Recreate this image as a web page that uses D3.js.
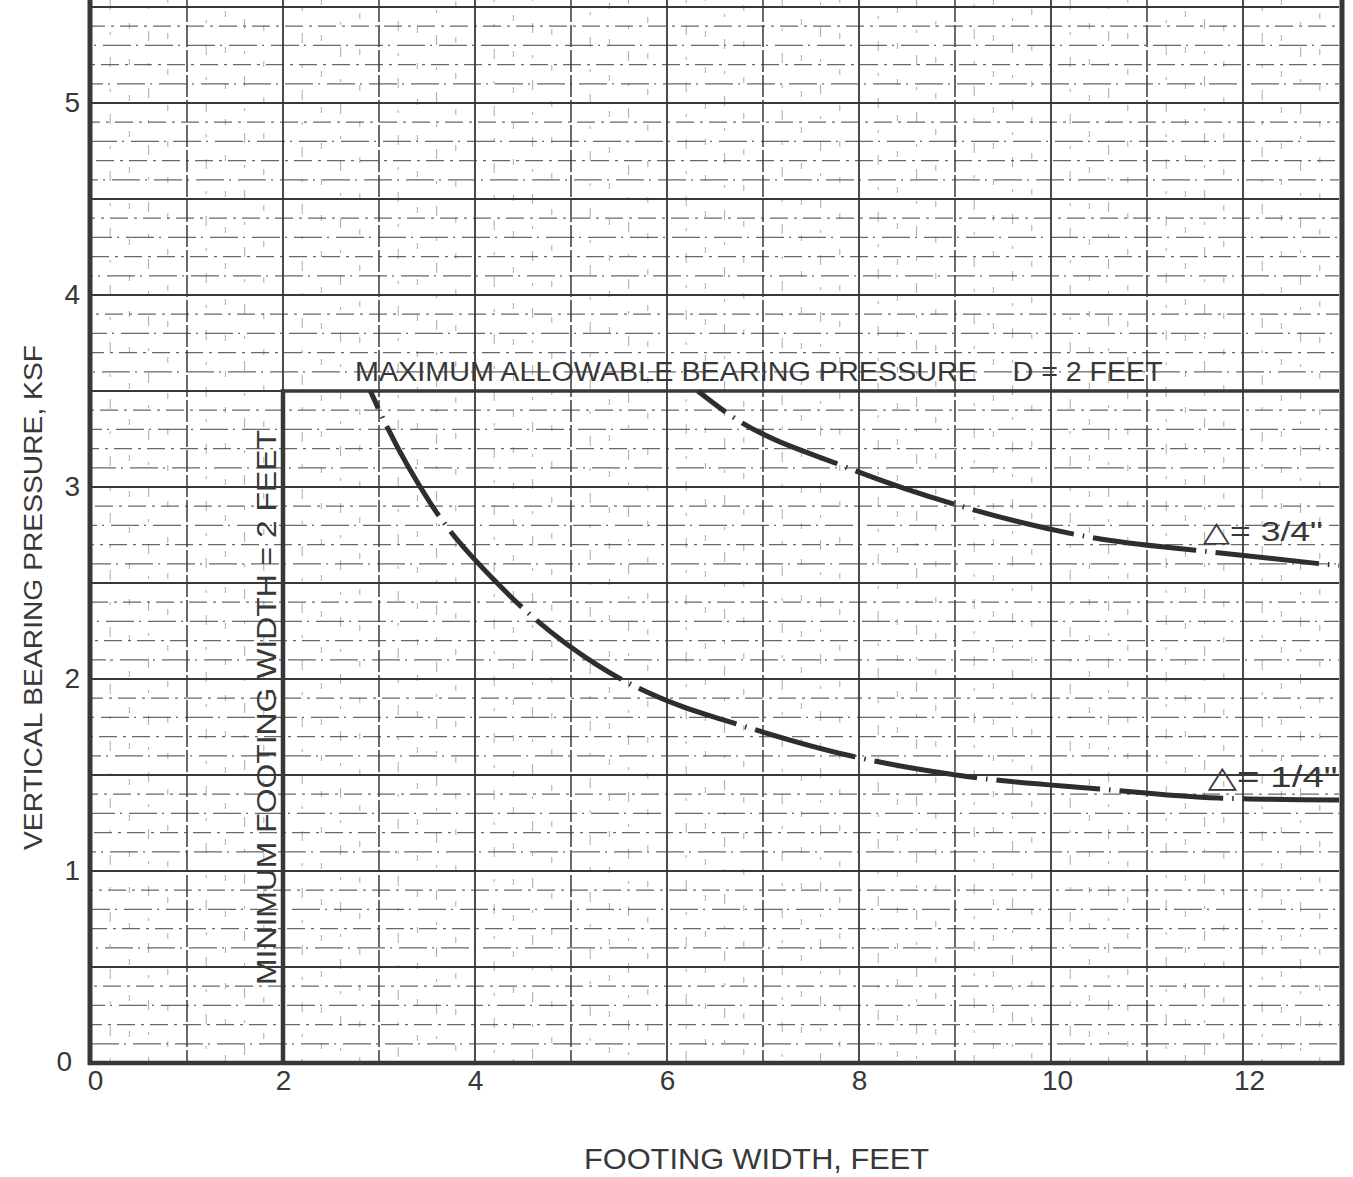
<!DOCTYPE html>
<html>
<head>
<meta charset="utf-8">
<script src="https://cdn.jsdelivr.net/npm/d3@7"></script>
<style>
  body { margin: 0; background: #fff; }
  svg { display: block; }
  text { font-family: "Liberation Sans", "DejaVu Sans", sans-serif; fill: #383838; }
</style>
</head>
<body>
<svg id="chart"></svg>
<script>
// values
const xTicks = [0, 2, 4, 6, 8, 10, 12]
const yTicks = [0, 1, 2, 3, 4, 5]
const maxBearing = 3.5      // ksf, D = 2 feet
const minWidth = 2          // feet
// settlement curve, delta = 1/4"
const quarterX = [2.91, 3.01, 3.53, 4.29, 5.25, 6.14, 6.57, 7.91, 9.16, 10.44, 11.74, 13]
const quarterY = [3.5, 3.39, 2.92, 2.47, 2.08, 1.86, 1.79, 1.60, 1.49, 1.43, 1.38, 1.37]
// settlement curve, delta = 3/4"
const threeQX = [6.32, 6.67, 7.83, 9.13, 10.39, 11.70, 13]
const threeQY = [3.5, 3.37, 3.11, 2.89, 2.74, 2.66, 2.59]

const width = 1353, height = 1177
const ink = '#383838'

const svg = d3.select('#chart')
  .attr('width', width)
  .attr('height', height)

svg.append('rect').attr('width', width).attr('height', height).attr('fill', '#fff')

const x = d3.scaleLinear().domain([0, 13]).range([91, 1339])
const y = d3.scaleLinear().domain([0, 5]).range([1063, 103])

svg.append('clipPath').attr('id', 'plot')
  .append('rect')
  .attr('x', x(0)).attr('y', 0)
  .attr('width', x(13) - x(0) + 2).attr('height', y(0))

const grid = svg.append('g').attr('clip-path', 'url(#plot)')

// minor vertical lines every 0.2 ft (faint, broken on the scan)
const vMinor = d3.range(1, 65).map(i => i / 5).filter(v => Math.abs(v - Math.round(v)) > 1e-6)
grid.selectAll('.vminor').data(vMinor).join('line')
  .attr('x1', d => x(d)).attr('x2', d => x(d))
  .attr('y1', 0).attr('y2', y(0))
  .attr('stroke', '#555').attr('stroke-width', 1)
  .attr('stroke-dasharray', (d, i) => i % 2 ? '6,30' : '10,22,3,22')
  .attr('stroke-dashoffset', (d, i) => (i * 13) % 40)
  .attr('opacity', 0.5)

// minor horizontal lines every 0.1 ksf
const hMinor = d3.range(1, 56).map(i => i / 10).filter(v => Math.abs(v * 2 - Math.round(v * 2)) > 1e-6)
grid.selectAll('.hminor').data(hMinor).join('line')
  .attr('x1', x(0)).attr('x2', x(13))
  .attr('y1', d => y(d)).attr('y2', d => y(d))
  .attr('stroke', '#444').attr('stroke-width', 1.2)
  .attr('stroke-dasharray', (d, i) => i % 2 ? '18,6,3,6' : '28,5,2,7')
  .attr('stroke-dashoffset', (d, i) => (i * 7) % 33)
  .attr('opacity', 0.8)

// half-ksf and whole-ksf lines
const hMajor = d3.range(1, 12).map(i => i / 2)
grid.selectAll('.hmajor').data(hMajor).join('line')
  .attr('x1', x(0)).attr('x2', x(13))
  .attr('y1', d => y(d)).attr('y2', d => y(d))
  .attr('stroke', ink)
  .attr('stroke-width', d => d % 1 === 0 ? 2.2 : 1.8)

// whole-foot vertical lines
const vMajor = d3.range(1, 13)
grid.selectAll('.vmajor').data(vMajor).join('line')
  .attr('x1', d => x(d)).attr('x2', d => x(d))
  .attr('y1', 0).attr('y2', y(0))
  .attr('stroke', ink)
  .attr('stroke-width', d => d % 2 === 0 ? 1.8 : 1.5)
  .attr('stroke-dasharray', d => d % 2 === 0 ? null : '22,3')

// limits
svg.append('line')
  .attr('x1', x(minWidth)).attr('x2', x(minWidth))
  .attr('y1', y(0)).attr('y2', y(maxBearing) - 1.5)
  .attr('stroke', ink).attr('stroke-width', 4.5)
svg.append('line')
  .attr('x1', x(minWidth) - 2).attr('x2', x(13))
  .attr('y1', y(maxBearing)).attr('y2', y(maxBearing))
  .attr('stroke', ink).attr('stroke-width', 3.5)

// settlement curves
const line = d3.line()
  .x(d => x(d[0])).y(d => y(d[1]))
  .curve(d3.curveMonotoneX)

const curves = [
  { pts: d3.zip(quarterX, quarterY), offset: 85 },
  { pts: d3.zip(threeQX, threeQY), offset: 69 }
]
svg.append('g').attr('clip-path', 'url(#plot)')
  .selectAll('path').data(curves).join('path')
  .attr('d', d => line(d.pts))
  .attr('fill', 'none')
  .attr('stroke', '#2e2e2e')
  .attr('stroke-width', 5)
  .attr('stroke-linecap', 'butt')
  .attr('stroke-dasharray', '104,9,1.5,9')
  .attr('stroke-dashoffset', d => d.offset)

// frame
svg.append('line')
  .attr('x1', x(0) - 1).attr('x2', x(0) - 1)
  .attr('y1', 0).attr('y2', y(0) + 2)
  .attr('stroke', ink).attr('stroke-width', 5)
svg.append('line')
  .attr('x1', x(13) + 3).attr('x2', x(13) + 3)
  .attr('y1', 0).attr('y2', y(0) + 2)
  .attr('stroke', ink).attr('stroke-width', 5)
svg.append('line')
  .attr('x1', x(0) - 3).attr('x2', x(13) + 5)
  .attr('y1', y(0)).attr('y2', y(0))
  .attr('stroke', ink).attr('stroke-width', 4.5)

// axes (labels only)
const xAxis = d3.axisBottom(x).tickValues(xTicks).tickSize(0).tickPadding(7)
  .tickFormat(d3.format('d'))
const yAxis = d3.axisLeft(y).tickValues(yTicks).tickSize(0).tickPadding(11)
  .tickFormat(d3.format('d'))

const gx = svg.append('g').attr('transform', `translate(0,${y(0)})`).call(xAxis)
const gy = svg.append('g').attr('transform', `translate(${x(0)},0)`).call(yAxis)
;[gx, gy].forEach(g => {
  g.select('.domain').remove()
  g.selectAll('text')
    .attr('font-size', 28)
    .attr('font-family', '"Liberation Sans", sans-serif')
    .attr('fill', ink)
})
gx.selectAll('.tick text').attr('dx', d => d >= 10 ? 6 : (d === 0 ? 4 : 0))
gy.selectAll('.tick text').attr('dy', d => d === 0 ? '0.25em' : '0.32em')
  .attr('dx', d => d === 0 ? -8 : 0)

// titles
svg.append('text')
  .attr('x', 584).attr('y', 1169)
  .attr('font-size', 29)
  .attr('textLength', 345).attr('lengthAdjust', 'spacingAndGlyphs')
  .text('FOOTING WIDTH, FEET')

svg.append('text')
  .attr('transform', 'translate(42,850) rotate(-90)')
  .attr('font-size', 26)
  .attr('textLength', 505).attr('lengthAdjust', 'spacingAndGlyphs')
  .text('VERTICAL BEARING PRESSURE, KSF')

// annotations
svg.append('text')
  .attr('x', x(2.75)).attr('y', y(maxBearing) - 10)
  .attr('font-size', 27)
  .attr('textLength', 622).attr('lengthAdjust', 'spacingAndGlyphs')
  .text('MAXIMUM ALLOWABLE BEARING PRESSURE')
svg.append('text')
  .attr('x', x(9.6)).attr('y', y(maxBearing) - 10)
  .attr('font-size', 27)
  .attr('textLength', 150).attr('lengthAdjust', 'spacingAndGlyphs')
  .text('D = 2 FEET')

svg.append('text')
  .attr('transform', `translate(${x(minWidth) - 7},985) rotate(-90)`)
  .attr('font-size', 28)
  .attr('textLength', 555).attr('lengthAdjust', 'spacingAndGlyphs')
  .text('MINIMUM FOOTING WIDTH = 2 FEET')

svg.append('text')
  .attr('x', x(11.58)).attr('y', y(2.72))
  .attr('font-size', 28)
  .attr('font-family', '"DejaVu Sans", sans-serif')
  .attr('textLength', 120).attr('lengthAdjust', 'spacingAndGlyphs')
  .text('\u25B3= 3/4"')

svg.append('text')
  .attr('x', x(11.63)).attr('y', y(1.44))
  .attr('font-size', 30)
  .attr('font-family', '"DejaVu Sans", sans-serif')
  .attr('textLength', 130).attr('lengthAdjust', 'spacingAndGlyphs')
  .text('\u25B3= 1/4"')
</script>
</body>
</html>
